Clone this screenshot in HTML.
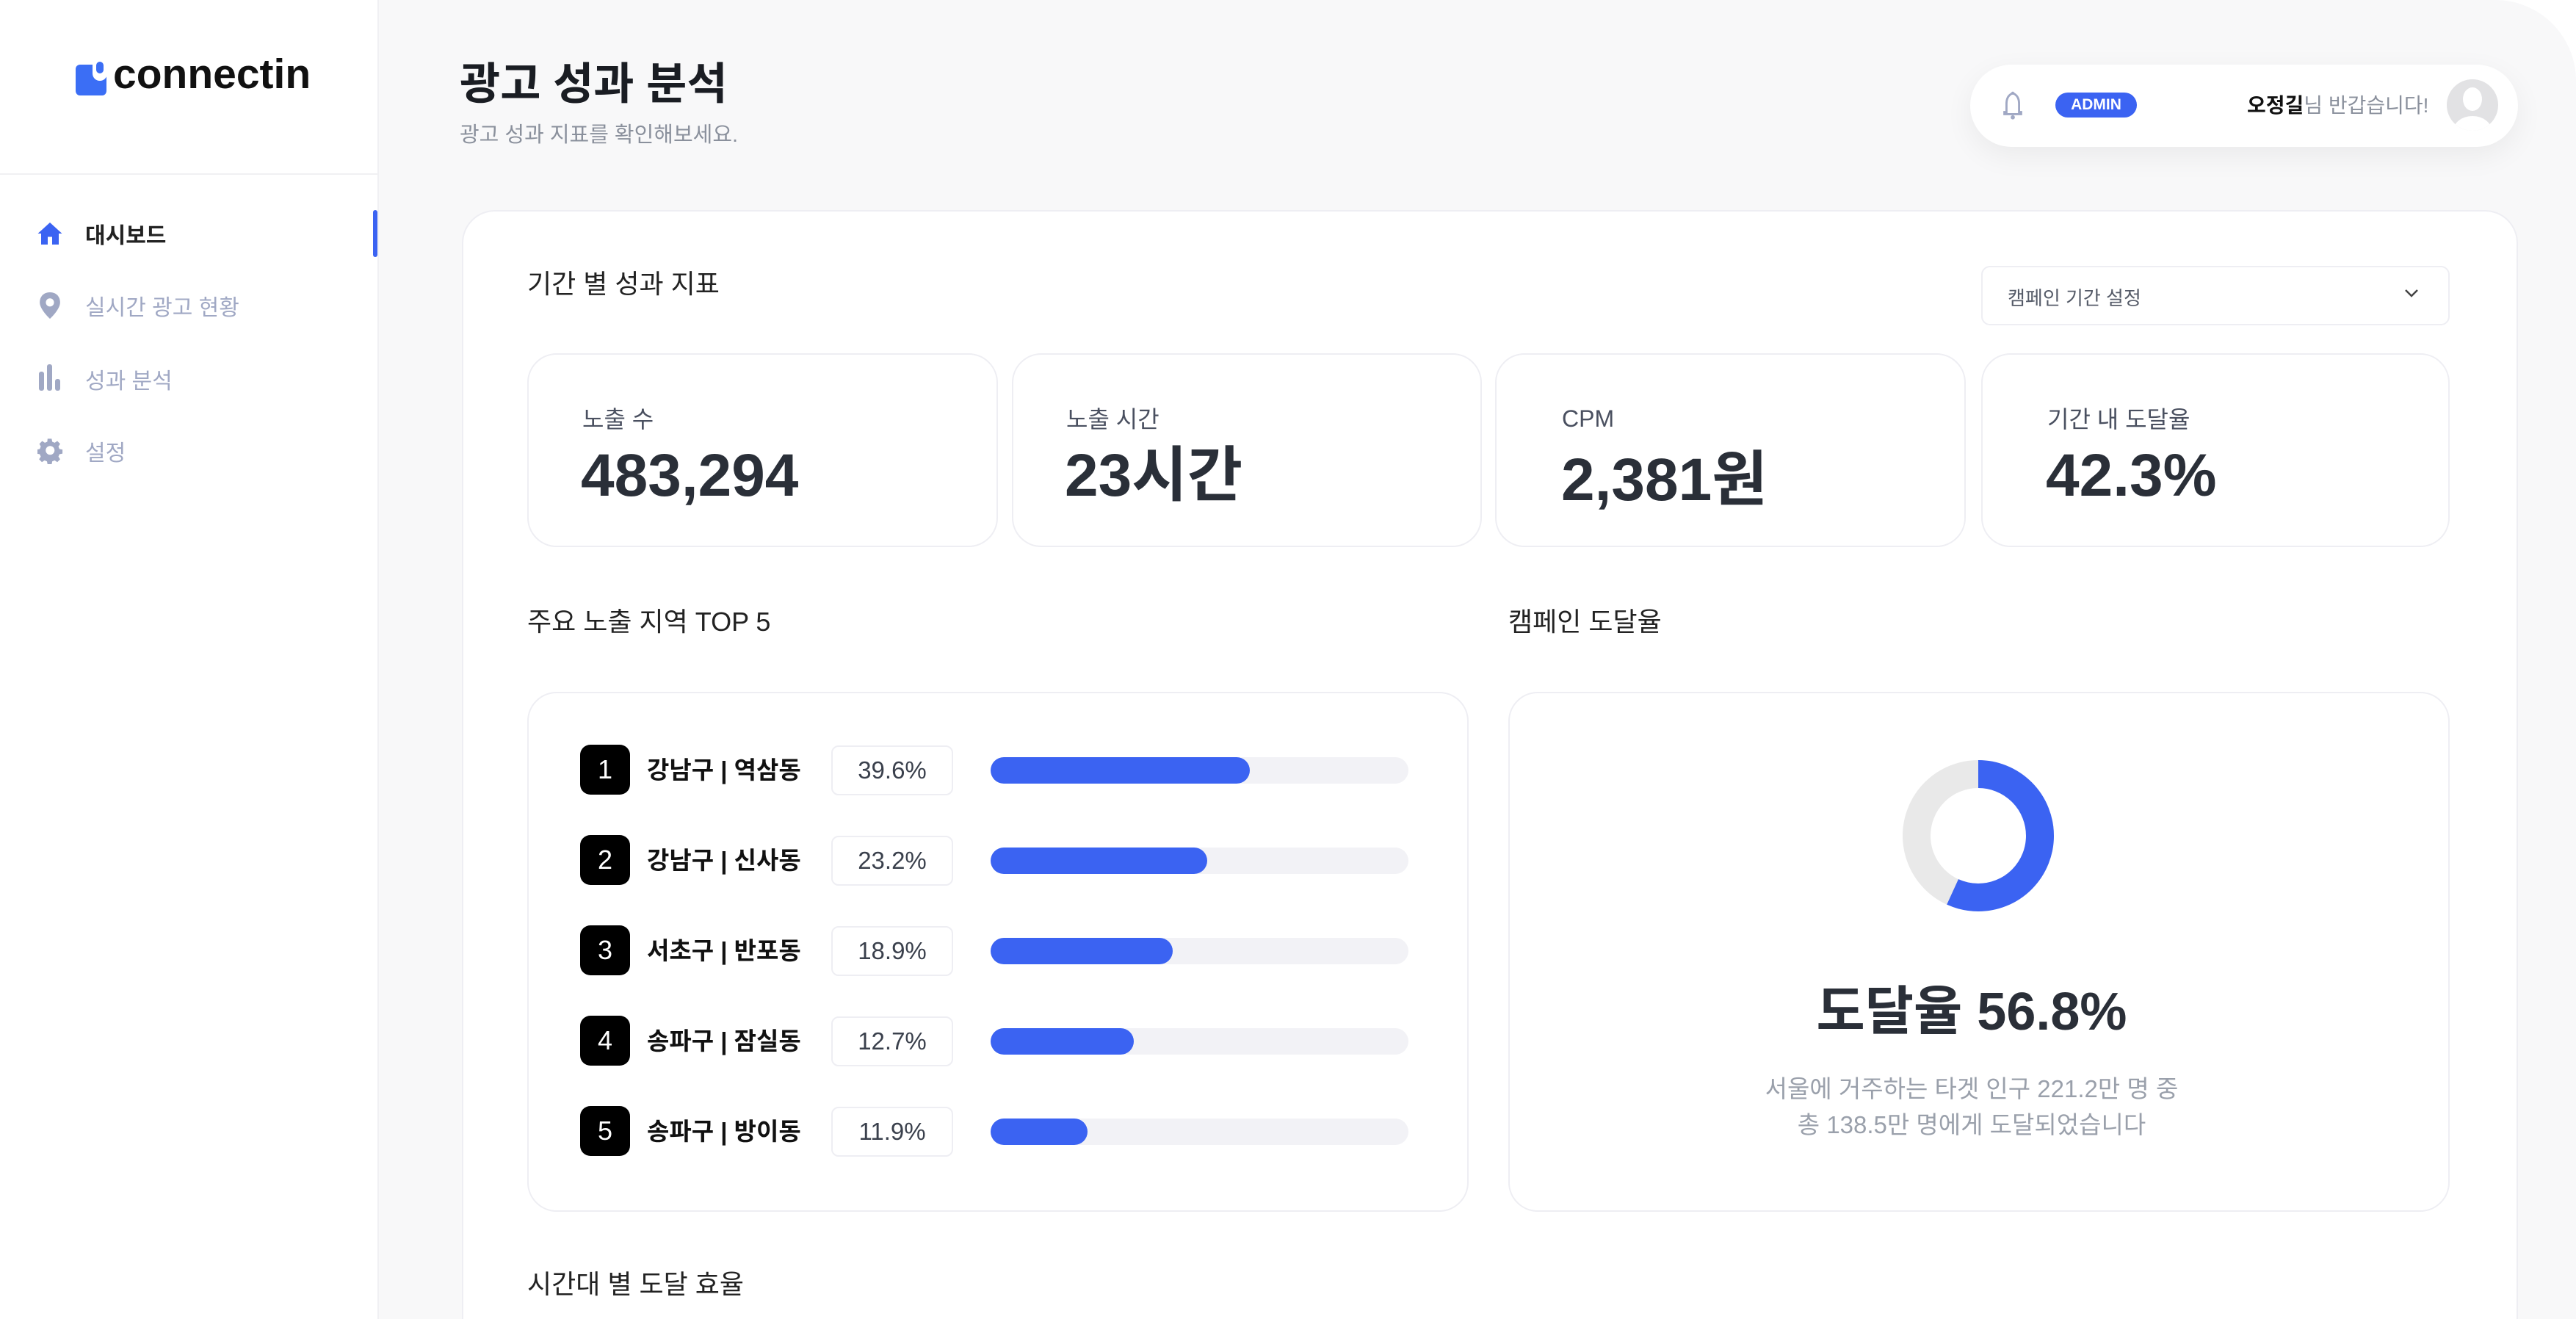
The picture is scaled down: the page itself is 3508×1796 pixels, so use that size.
<!DOCTYPE html>
<html style="width:3508px;height:1796px;overflow:hidden"><head><meta charset="utf-8">
<style>
*{margin:0;padding:0;box-sizing:border-box}
body{width:3508px;height:1796px;overflow:hidden;background:#fff;font-family:"Liberation Sans","Noto Sans CJK KR",sans-serif;color:#2a2f38;position:relative}
.a{position:absolute}
.main{left:514px;top:0;width:2994px;height:1796px;background:#f8f8f9;border-top-right-radius:110px;border-left:2px solid #f0f0f3;overflow:hidden}
.card{background:#fff;border:2px solid #eeeef3;border-radius:40px}
.nav{font-size:30px;color:#a0a8c4;left:116px}
.lbl{font-size:32px;color:#4a5060}
.val{font-size:82px;font-weight:bold;color:#2a2f38;line-height:100px}
.badge{width:68px;height:68px;background:#000;color:#fff;border-radius:14px;font-size:36px;display:flex;align-items:center;justify-content:center}
.nm{font-size:33px;font-weight:bold;color:#111}
.pct{width:166px;height:68px;border:2px solid #eeeef3;border-radius:10px;font-size:33px;color:#3a404c;display:flex;align-items:center;justify-content:center}
.bar{left:1349px;width:569px;height:36px;background:#f2f2f6;border-radius:18px}
.fill{left:0;top:0;height:36px;background:#3b63f2;border-radius:18px}
.sec{font-size:36px;color:#222}
</style></head><body>
<!-- sidebar -->
<div class="a" style="left:103px;top:88px;width:42px;height:42px;background:#3b6ef5;border-radius:6px"></div>
<div class="a" style="left:126px;top:84px;width:20px;height:26px;background:#fff;border-radius:0 0 10px 10px"></div>
<div class="a" style="left:131px;top:84px;width:10px;height:16px;background:#3b6ef5;border-radius:5px"></div>
<div class="a" style="left:154px;top:68px;font-size:57px;font-weight:bold;color:#111;letter-spacing:0px">connectin</div>
<div class="a" style="left:0;top:236px;width:514px;height:2px;background:#f0f0f3"></div>
<div class="a" style="left:508px;top:286px;width:6px;height:64px;background:#3b63f2;border-radius:3px"></div>
<svg class="a" style="left:50px;top:300px" width="36" height="36" viewBox="0 0 24 24"><path d="M12 2 L23 12 H20 V22 H14 V15 H10 V22 H4 V12 H1 Z" fill="#3b63f2"/></svg>
<div class="a" style="left:116px;top:296px;font-size:30px;font-weight:bold;color:#222">대시보드</div>
<svg class="a" style="left:54px;top:398px" width="28" height="36" viewBox="0 0 20 26"><path d="M10 0 C4 0 0 4 0 10 C0 17 10 26 10 26 C10 26 20 17 20 10 C20 4 16 0 10 0Z" fill="#a0a8c4"/><circle cx="10" cy="10" r="4" fill="#fff"/></svg>
<div class="a nav" style="top:394px">실시간 광고 현황</div>
<div class="a" style="left:53px;top:506px;width:7px;height:26px;background:#a0a8c4;border-radius:3px"></div>
<div class="a" style="left:64px;top:496px;width:7px;height:36px;background:#a0a8c4;border-radius:3px"></div>
<div class="a" style="left:75px;top:516px;width:7px;height:16px;background:#a0a8c4;border-radius:3px"></div>
<div class="a nav" style="top:494px">성과 분석</div>
<svg class="a" style="left:51px;top:596px" width="36" height="36" viewBox="0 0 24 24"><path d="M10 1h4l.6 3 2.4 1 2.6-1.7 2.8 2.8L20.7 8.7l1 2.4 3 .6v4l-3 .6-1 2.4 1.7 2.6-2.8 2.8-2.6-1.7-2.4 1-.6 3h-4l-.6-3-2.4-1-2.6 1.7-2.8-2.8 1.7-2.6-1-2.4-3-.6v-4l3-.6 1-2.4L1.9 6.1 4.7 3.3 7.3 5l2.4-1z" fill="#a0a8c4" transform="scale(.92)"/><circle cx="11.5" cy="11.5" r="4" fill="#fff"/></svg>
<div class="a nav" style="top:592px">설정</div>
<!-- main -->
<div class="a main"></div>
<div class="a" style="left:626px;top:66px;font-size:60px;font-weight:bold;color:#1a1d23">광고 성과 분석</div>
<div class="a" style="left:626px;top:160px;font-size:29px;color:#8a909c">광고 성과 지표를 확인해보세요.</div>
<div class="a" style="left:2683px;top:88px;width:746px;height:112px;background:#fff;border-radius:56px;box-shadow:0 12px 40px rgba(0,0,0,0.06)"></div>
<svg class="a" style="left:2726px;top:124px" width="30" height="40" viewBox="0 0 20 28"><path d="M10 2 C5 4 4 8 4 12 V20 H2 V22 H18 V20 H16 V12 C16 8 15 4 10 2Z" fill="none" stroke="#a0a8c4" stroke-width="2"/><circle cx="10" cy="25" r="2" fill="#a0a8c4"/><circle cx="10" cy="2" r="1.5" fill="#a0a8c4"/></svg>
<div class="a" style="left:2799px;top:126px;width:111px;height:34px;background:#3b63f2;border-radius:17px;color:#fff;font-size:21px;font-weight:bold;display:flex;align-items:center;justify-content:center">ADMIN</div>
<div class="a" style="left:3060px;top:122px;font-size:28px;color:#8a909c"><b style="color:#111">오정길</b>님 반갑습니다!</div>
<div class="a" style="left:3332px;top:108px;width:70px;height:70px;border-radius:50%;background:#e2e2e4;overflow:hidden"><div class="a" style="left:22px;top:11px;width:26px;height:32px;border-radius:50%;background:#fff"></div><div class="a" style="left:9px;top:50px;width:52px;height:40px;border-radius:50%;background:#fff"></div></div>
<div class="a card" style="left:629px;top:286px;width:2800px;height:1560px;border-radius:45px"></div>
<div class="a sec" style="left:718px;top:358px">기간 별 성과 지표</div>
<div class="a" style="left:2698px;top:362px;width:638px;height:81px;border:2px solid #eeeef3;border-radius:12px;background:#fff"></div>
<div class="a" style="left:2734px;top:386px;font-size:26px;color:#555b68">캠페인 기간 설정</div>
<svg class="a" style="left:3274px;top:392px" width="20" height="14" viewBox="0 0 20 14"><path d="M2 3 L10 11 L18 3" fill="none" stroke="#444" stroke-width="2.5"/></svg>
<div class="a card" style="left:718px;top:481px;width:641px;height:264px"></div>
<div class="a card" style="left:1378px;top:481px;width:640px;height:264px"></div>
<div class="a card" style="left:2036px;top:481px;width:641px;height:264px"></div>
<div class="a card" style="left:2698px;top:481px;width:638px;height:264px"></div>
<div class="a lbl" style="left:793px;top:546px">노출 수</div>
<div class="a val" style="left:791px;top:598px">483,294</div>
<div class="a lbl" style="left:1452px;top:546px">노출 시간</div>
<div class="a val" style="left:1450px;top:598px">23시간</div>
<div class="a lbl" style="left:2127px;top:552px">CPM</div>
<div class="a val" style="left:2126px;top:604px">2,381원</div>
<div class="a lbl" style="left:2788px;top:546px">기간 내 도달율</div>
<div class="a val" style="left:2786px;top:598px">42.3%</div>
<div class="a sec" style="left:718px;top:818px">주요 노출 지역 TOP 5</div>
<div class="a sec" style="left:2054px;top:818px">캠페인 도달율</div>
<div class="a card" style="left:718px;top:942px;width:1282px;height:708px"></div>
<div class="a card" style="left:2054px;top:942px;width:1282px;height:708px"></div>
<!-- rows -->
<div class="a badge" style="left:790px;top:1014px">1</div><div class="a nm" style="left:881px;top:1022px">강남구 | 역삼동</div><div class="a pct" style="left:1132px;top:1015px">39.6%</div><div class="a bar" style="top:1031px"><div class="a fill" style="width:353px"></div></div>
<div class="a badge" style="left:790px;top:1137px">2</div><div class="a nm" style="left:881px;top:1145px">강남구 | 신사동</div><div class="a pct" style="left:1132px;top:1138px">23.2%</div><div class="a bar" style="top:1154px"><div class="a fill" style="width:295px"></div></div>
<div class="a badge" style="left:790px;top:1260px">3</div><div class="a nm" style="left:881px;top:1268px">서초구 | 반포동</div><div class="a pct" style="left:1132px;top:1261px">18.9%</div><div class="a bar" style="top:1277px"><div class="a fill" style="width:248px"></div></div>
<div class="a badge" style="left:790px;top:1383px">4</div><div class="a nm" style="left:881px;top:1391px">송파구 | 잠실동</div><div class="a pct" style="left:1132px;top:1384px">12.7%</div><div class="a bar" style="top:1400px"><div class="a fill" style="width:195px"></div></div>
<div class="a badge" style="left:790px;top:1506px">5</div><div class="a nm" style="left:881px;top:1514px">송파구 | 방이동</div><div class="a pct" style="left:1132px;top:1507px">11.9%</div><div class="a bar" style="top:1523px"><div class="a fill" style="width:132px"></div></div>
<!-- donut -->
<svg class="a" style="left:2590px;top:1034px" width="208" height="208" viewBox="0 0 208 208">
<circle cx="104" cy="104" r="84" fill="none" stroke="#e9e9e9" stroke-width="38"/>
<circle cx="104" cy="104" r="84" fill="none" stroke="#3b63f2" stroke-width="38" stroke-dasharray="299.8 600" transform="rotate(-90 104 104)"/>
</svg>
<div class="a" style="left:2044px;top:1318px;width:1282px;text-align:center;font-size:72px;font-weight:bold;color:#2a2f38">도달율 56.8%</div>
<div class="a" style="left:2044px;top:1458px;width:1282px;text-align:center;font-size:33px;line-height:49px;color:#9aa0ab">서울에 거주하는 타겟 인구 221.2만 명 중<br>총 138.5만 명에게 도달되었습니다</div>
<div class="a sec" style="left:718px;top:1720px">시간대 별 도달 효율</div>
</body></html>
